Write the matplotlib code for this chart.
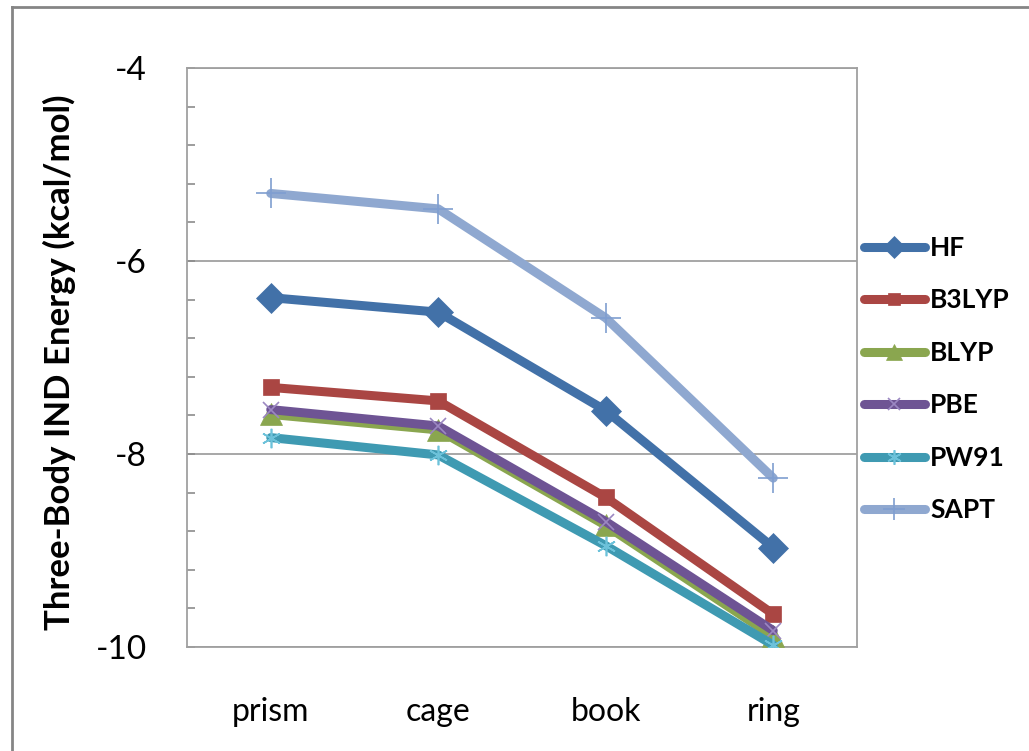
import matplotlib
matplotlib.use("Agg")
import matplotlib.pyplot as plt
from matplotlib.lines import Line2D
from matplotlib.ticker import MultipleLocator

plt.rcParams['font.family'] = ['Lato', 'DejaVu Sans']
plt.rcParams['axes.unicode_minus'] = False

# Water hexamer isomers and three-body induction energies (kcal/mol)
categories = ["prism", "cage", "book", "ring"]
series_names = ["HF", "B3LYP", "BLYP", "PBE", "PW91", "SAPT"]
hf    = [-6.38, -6.53, -7.55, -8.97]
b3lyp = [-7.31, -7.45, -8.45, -9.66]
blyp  = [-7.59, -7.75, -8.74, -9.89]
pbe   = [-7.54, -7.71, -8.70, -9.83]
pw91  = [-7.83, -8.01, -8.95, -9.98]
sapt  = [-5.30, -5.46, -6.59, -8.25]
values = [hf, b3lyp, blyp, pbe, pw91, sapt]

colors = ["#4271A8", "#AA4643", "#8AA64F", "#6E5494", "#3F9AB2", "#8FA8D0"]
marker_colors = ["#4271A8", "#AA4643", "#8AA64F", "#9B87C2", "#6DC2DA", "#7F9ED0"]
markers = ["D", "s", "^", "x", (6, 2, 0), "+"]
msizes = [15, 12, 16, 12, 14, 22]
filled = [True, True, True, False, False, False]

W, H = 1029, 751
fig = plt.figure(figsize=(W / 100, H / 100), dpi=100)
ax = fig.add_axes([187 / W, 1 - 647 / H, (857 - 187) / W, (647 - 68) / H])

x = list(range(len(categories)))
for name, vals, c, mc, m, ms, f in zip(series_names, values, colors, marker_colors,
                                       markers, msizes, filled):
    ax.plot(x, vals, color=c, lw=6.5, solid_capstyle='round', solid_joinstyle='round',
            marker=m, markersize=ms,
            markerfacecolor=mc if f else 'none',
            markeredgecolor=mc, markeredgewidth=0.5 if f else 1.2,
            label=name, zorder=3)

ax.set_xlim(-0.5, len(categories) - 0.5)
ax.set_ylim(-10, -4)
ax.set_xticks(x)
ax.set_xticklabels(categories)
ax.yaxis.set_major_locator(MultipleLocator(2))
ax.yaxis.set_minor_locator(MultipleLocator(0.4))
ax.tick_params(axis='x', length=0, pad=36, labelsize=23)
ax.tick_params(axis='y', which='both', direction='in', length=6, width=1.2,
               color='#8c8c8c', labelsize=24, pad=29)
ax.grid(axis='y', which='major', color='#a0a0a0', lw=1.3, zorder=1)
for s in ax.spines.values():
    s.set_color('#a0a0a0')
    s.set_linewidth(1.3)

ax.set_ylabel("Three-Body IND Energy (kcal/mol)", fontsize=25, fontweight='bold',
              labelpad=0)
ax.yaxis.set_label_coords(76 / W, 1 - 362 / H, transform=fig.transFigure)

leg = fig.legend(loc='center left', bbox_to_anchor=(864 / W, 1 - 379 / H),
                 frameon=False, prop={'weight': 'bold', 'size': 19},
                 handlelength=2.3, handletextpad=0.2, labelspacing=1.08,
                 borderpad=0, borderaxespad=0, markerscale=0.75)

# Outer chart frame
fig.add_artist(Line2D([12 / W, 1.0], [1 - 7 / H, 1 - 7 / H], transform=fig.transFigure,
                      color='#858585', lw=2))
fig.add_artist(Line2D([12 / W, 12 / W], [0, 1 - 7 / H], transform=fig.transFigure,
                      color='#858585', lw=2))

fig.savefig("out.png", dpi=100)
